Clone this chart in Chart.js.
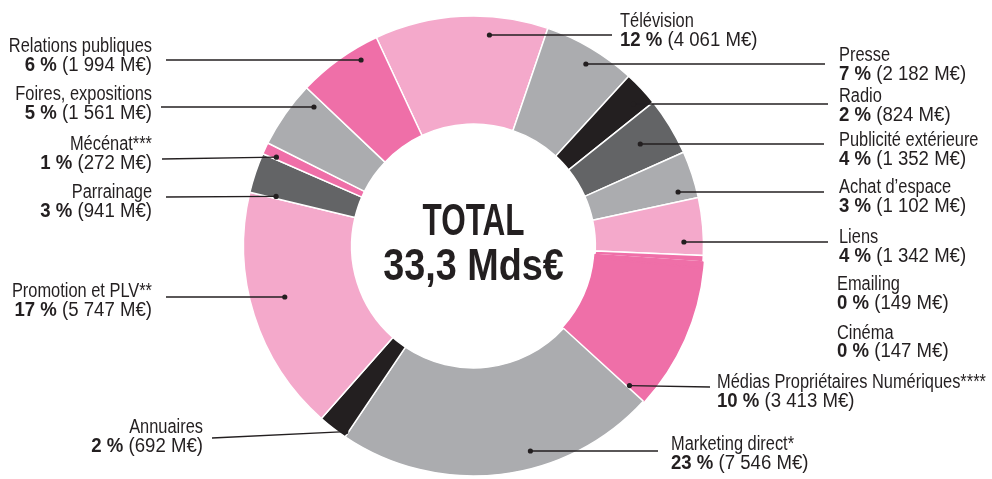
<!DOCTYPE html>
<html lang="fr">
<head>
<meta charset="utf-8">
<title>Dépenses de communication</title>
<script src="https://cdn.jsdelivr.net/npm/chart.js@4.4.1/dist/chart.umd.min.js"></script>
<style>
  html, body { margin: 0; padding: 0; background: #fff; }
  #wrap { position: relative; width: 992px; height: 479px; }
</style>
</head>
<body>
<div id="wrap"><canvas id="budget"></canvas></div>
<script>
// Dépenses par média, en millions d'euros (sens horaire depuis la télévision)
const categories = [
  'Télévision', 'Presse', 'Radio', 'Publicité extérieure', 'Achat d’espace',
  'Liens', 'Emailing', 'Cinéma', 'Médias Propriétaires Numériques****',
  'Marketing direct*', 'Annuaires', 'Promotion et PLV**', 'Parrainage',
  'Mécénat***', 'Foires, expositions', 'Relations publiques'
];
const amounts = [4061, 2182, 824, 1352, 1102, 1342, 149, 147, 3413, 7546, 692, 5747, 941, 272, 1561, 1994];
const totalLines = ['TOTAL', '33,3 Mds€'];

const PINK_LIGHT = '#f4a9cb';
const PINK = '#ef6fa8';
const GREY = '#abacaf';
const GREY_DARK = '#636466';
const INK = '#231f20';

const colors = [PINK_LIGHT, GREY, INK, GREY_DARK, GREY, PINK_LIGHT, PINK, PINK, PINK,
                GREY, INK, PINK_LIGHT, GREY_DARK, PINK, GREY, PINK];
// cinéma and médias share a pink outline so the two thin slices merge into médias
const borderColors = amounts.map((v, i) => (i === 7 || i === 8) ? PINK : '#ffffff');

// label placement: side, text x, line end x, line y, first baseline, dot radius (share of outer radius)
const labelLayout = [
  { side: 'r', tx: 620, lx: 612, ly: 35,  by: 27,  dr: 0.92 },
  { side: 'r', tx: 839, lx: 825, ly: 64,  by: 61,  dr: 0.93 },
  { side: 'r', tx: 839, lx: 828, ly: 104, by: 102, dr: 0.93 },
  { side: 'r', tx: 839, lx: 824, ly: 144, by: 146, dr: 0.85 },
  { side: 'r', tx: 839, lx: 824, ly: 192, by: 193, dr: 0.92 },
  { side: 'r', tx: 839, lx: 828, ly: 242, by: 243, dr: 0.915 },
  { side: 'r', tx: 837, lx: null, ly: null, by: 290, dr: null },
  { side: 'r', tx: 837, lx: null, ly: null, by: 338.5, dr: null },
  { side: 'r', tx: 717, lx: 710, ly: 387, by: 388, dr: 0.91 },
  { side: 'r', tx: 671, lx: 658, ly: 451, by: 450, dr: 0.925 },
  { side: 'l', tx: 203, lx: 212, ly: 438, by: 433, dr: 0.98 },
  { side: 'l', tx: 152, lx: 166, ly: 297, by: 297, dr: 0.85 },
  { side: 'l', tx: 152, lx: 166, ly: 197, by: 198, dr: 0.885 },
  { side: 'l', tx: 152, lx: 162, ly: 159, by: 150, dr: 0.94 },
  { side: 'l', tx: 152, lx: 161, ly: 107, by: 100, dr: 0.92 },
  { side: 'l', tx: 152, lx: 166, ly: 60,  by: 52,  dr: 0.945 }
];

const FAMILY = '"Liberation Sans", Arial, sans-serif';
const NAME_SQUEEZE = 0.82;
const VALUE_SQUEEZE = 0.93;
const totalStyle = { size: 45, squeeze: [0.7, 0.84], baselines: [235, 280] };
const total = amounts.reduce((a, b) => a + b, 0);

function groupThousands(n) {
  return String(n).replace(/\B(?=(\d{3})+(?!\d))/g, ' ');
}

// point on the leader line that sits inside the slice
function anchorFor(arc, layout) {
  const r = layout.dr * arc.outerRadius;
  const dy = layout.ly - arc.y;
  const dx = Math.sqrt(Math.max(r * r - dy * dy, 0)) * (layout.side === 'r' ? 1 : -1);
  const TAU = Math.PI * 2;
  const s = arc.startAngle, e = arc.endAngle;
  let a = Math.atan2(dy, dx);
  while (a < s) a += TAU;
  while (a >= s + TAU) a -= TAU;
  const m = Math.min((e - s) * 0.25, 0.6 * Math.PI / 180);
  if (a < s + m) {
    a = s + m;
  } else if (a > e - m) {
    const toEnd = a - (e - m);
    const toStart = (s + m + TAU) - a;
    a = toEnd < toStart ? e - m : s + m;
  }
  return { x: arc.x + r * Math.cos(a), y: arc.y + r * Math.sin(a) };
}

function squeezedText(ctx, text, x, y, squeeze) {
  ctx.save();
  ctx.translate(x, y);
  ctx.scale(squeeze, 1);
  ctx.fillText(text, 0, 0);
  ctx.restore();
}

const calloutPlugin = {
  id: 'callouts',
  afterDraw(chart) {
    const ctx = chart.ctx;
    const arcs = chart.getDatasetMeta(0).data;
    const cx = arcs[0].x;

    ctx.save();
    ctx.fillStyle = INK;
    ctx.strokeStyle = INK;
    ctx.lineWidth = 1.3;
    ctx.textBaseline = 'alphabetic';
    ctx.textAlign = 'left';

    const regular = '20px ' + FAMILY;
    const bold = 'bold 20px ' + FAMILY;

    categories.forEach((name, i) => {
      const lay = labelLayout[i];
      if (lay.ly !== null) {
        const p = anchorFor(arcs[i], lay);
        ctx.beginPath();
        ctx.moveTo(p.x, p.y);
        ctx.lineTo(lay.lx, lay.ly);
        ctx.stroke();
        ctx.beginPath();
        ctx.arc(p.x, p.y, 2.6, 0, Math.PI * 2);
        ctx.fill();
      }

      const pct = Math.round(amounts[i] / total * 100) + ' %';
      const rest = ' (' + groupThousands(amounts[i]) + ' M€)';

      ctx.font = regular;
      const wName = ctx.measureText(name).width * NAME_SQUEEZE;
      const wRest = ctx.measureText(rest).width * VALUE_SQUEEZE;
      ctx.font = bold;
      const wPct = ctx.measureText(pct).width * VALUE_SQUEEZE;

      const x1 = lay.side === 'r' ? lay.tx : lay.tx - wName;
      const x2 = lay.side === 'r' ? lay.tx : lay.tx - wPct - wRest;
      const y2 = lay.by + 18.5;

      ctx.font = regular;
      squeezedText(ctx, name, x1, lay.by, NAME_SQUEEZE);
      ctx.font = bold;
      squeezedText(ctx, pct, x2, y2, VALUE_SQUEEZE);
      ctx.font = regular;
      squeezedText(ctx, rest, x2 + wPct, y2, VALUE_SQUEEZE);
    });

    // total in the hole
    ctx.textAlign = 'center';
    ctx.font = 'bold ' + totalStyle.size + 'px ' + FAMILY;
    totalLines.forEach((t, k) => {
      squeezedText(ctx, t, cx, totalStyle.baselines[k], totalStyle.squeeze[k]);
    });
    ctx.restore();
  }
};

new Chart(document.getElementById('budget'), {
  type: 'doughnut',
  data: {
    labels: categories,
    datasets: [{
      data: amounts,
      backgroundColor: colors,
      borderColor: borderColors,
      borderWidth: 1.5
    }]
  },
  options: {
    responsive: true,
    maintainAspectRatio: false,
    animation: false,
    rotation: -25,
    cutout: '53%',
    radius: 230,
    layout: { padding: { top: 13, bottom: 0, left: 0, right: 45 } },
    plugins: {
      legend: { display: false },
      tooltip: { enabled: false }
    }
  },
  plugins: [calloutPlugin]
});
</script>
</body>
</html>
